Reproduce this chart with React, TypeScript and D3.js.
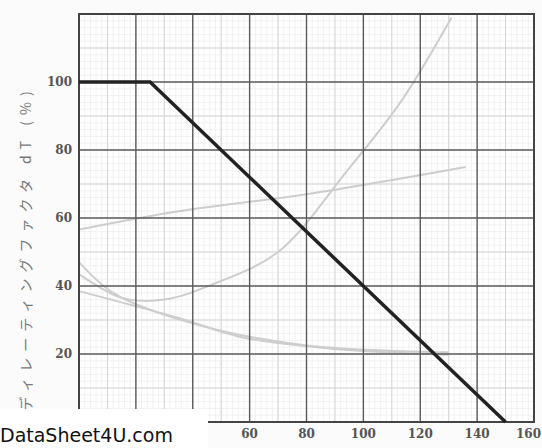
import React from 'react';
import * as d3 from 'd3';

// derating curve: ambient temperature (°C) vs derating factor (%)
const tempC = [0, 25, 150];
const derating = [100, 100, 0];

// 0, 20 and 40 sit under the watermark box in the scan
const xTicks = [60, 80, 100, 120, 140, 160];
const yTicks = [20, 40, 60, 80, 100];

// faint curves showing through from the other side of the sheet
const ghostRise: [number, number][] = [
  [0, 43.5], [15, 36.5], [30, 36], [47, 40.5], [70, 50], [94, 73.6], [113, 94], [131, 119],
];
const ghostFlat: [number, number][] = [
  [0, 56.6], [35, 62], [80, 67], [136, 75],
];
const ghostFallA: [number, number][] = [
  [0, 38.5], [35, 30.6], [58, 24.8], [90, 21.5], [130, 19.8],
];
const ghostFallB: [number, number][] = [
  [0, 47], [12, 38], [40, 29], [80, 22.5], [130, 20.5],
];

const W = 542;
const H = 448;
const margin = { top: 14, right: 8, bottom: 26, left: 79 };

const App: React.FC = () => {
  const x = d3.scaleLinear().domain([0, 160]).range([margin.left, W - margin.right]);
  const y = d3.scaleLinear().domain([0, 120]).range([H - margin.bottom, margin.top]);

  const fine = d3.range(0, 161, 2);
  const fineY = d3.range(0, 121, 2);
  const mid = d3.range(10, 160, 20);
  const midY = d3.range(10, 120, 20);
  const majX = d3.range(20, 160, 20);
  const majY = d3.range(20, 120, 20);

  const line = d3
    .line<number>()
    .x((d) => x(d))
    .y((_, i) => y(derating[i]));

  const ghost = d3
    .line<[number, number]>()
    .x((d) => x(d[0]))
    .y((d) => y(d[1]))
    .curve(d3.curveCatmullRom);

  return (
    <svg width={W} height={H} style={{ position: 'absolute', left: 0, top: 0, background: '#fff' }}>
      <rect width={W} height={H} fill="#fbfbfb" />
      <rect x={x(0)} y={y(120)} width={x(160) - x(0)} height={y(0) - y(120)} fill="#fff" />
      <g stroke="#ededed" strokeWidth={0.7}>
        {fine.map((t) => (
          <line key={'fx' + t} x1={x(t)} x2={x(t)} y1={y(0)} y2={y(120)} />
        ))}
        {fineY.map((t) => (
          <line key={'fy' + t} x1={x(0)} x2={x(160)} y1={y(t)} y2={y(t)} />
        ))}
      </g>
      <g stroke="#d4d4d4" strokeWidth={1}>
        {mid.map((t) => (
          <line key={'mx' + t} x1={x(t)} x2={x(t)} y1={y(0)} y2={y(120)} />
        ))}
        {midY.map((t) => (
          <line key={'my' + t} x1={x(0)} x2={x(160)} y1={y(t)} y2={y(t)} />
        ))}
      </g>
      <g fill="none" stroke="#cdcdcd" strokeWidth={2}>
        <path d={ghost(ghostRise) ?? ''} />
        <path d={ghost(ghostFlat) ?? ''} />
        <path d={ghost(ghostFallA) ?? ''} />
        <path d={ghost(ghostFallB) ?? ''} />
      </g>
      <g stroke="#5a5a5a" strokeWidth={1.4}>
        {majX.map((t) => (
          <line key={'Mx' + t} x1={x(t)} x2={x(t)} y1={y(0)} y2={y(120)} />
        ))}
        {majY.map((t) => (
          <line key={'My' + t} x1={x(0)} x2={x(160)} y1={y(t)} y2={y(t)} />
        ))}
      </g>
      <rect
        x={x(0)}
        y={y(120)}
        width={x(160) - x(0)}
        height={y(0) - y(120)}
        fill="none"
        stroke="#444"
        strokeWidth={2}
      />
      <path d={line(tempC) ?? ''} fill="none" stroke="#222" strokeWidth={3.5} strokeLinejoin="miter" />
      <g fontFamily="DejaVu Serif, serif" fontSize={12} fill="#555" fontWeight="bold">
        {yTicks.map((t) => (
          <text key={'yl' + t} x={x(0) - 7} y={y(t)} dy="0.35em" textAnchor="end">
            {t}
          </text>
        ))}
        {xTicks.map((t, i) => (
          <text
            key={'xl' + t}
            x={i === xTicks.length - 1 ? W - 1 : x(t)}
            y={y(0) + 16}
            textAnchor={i === xTicks.length - 1 ? 'end' : 'middle'}
          >
            {t}
          </text>
        ))}
      </g>
      <text
        transform={`translate(26, ${(y(0) + y(100)) / 2 - 4}) rotate(-90)`}
        textAnchor="middle"
        dy="0.35em"
        fontFamily="Noto Sans CJK JP, sans-serif"
        fontSize={14}
        fill="#777"
        letterSpacing={6}
      >
        ディレーティングファクタ dT (%)
      </text>
      <rect x={0} y={409} width={208} height={H - 409} fill="#fff" />
      <text x={0} y={442} fontFamily="DejaVu Sans, sans-serif" fontSize={19} fill="#111">
        DataSheet4U.com
      </text>
    </svg>
  );
};

export default App;
